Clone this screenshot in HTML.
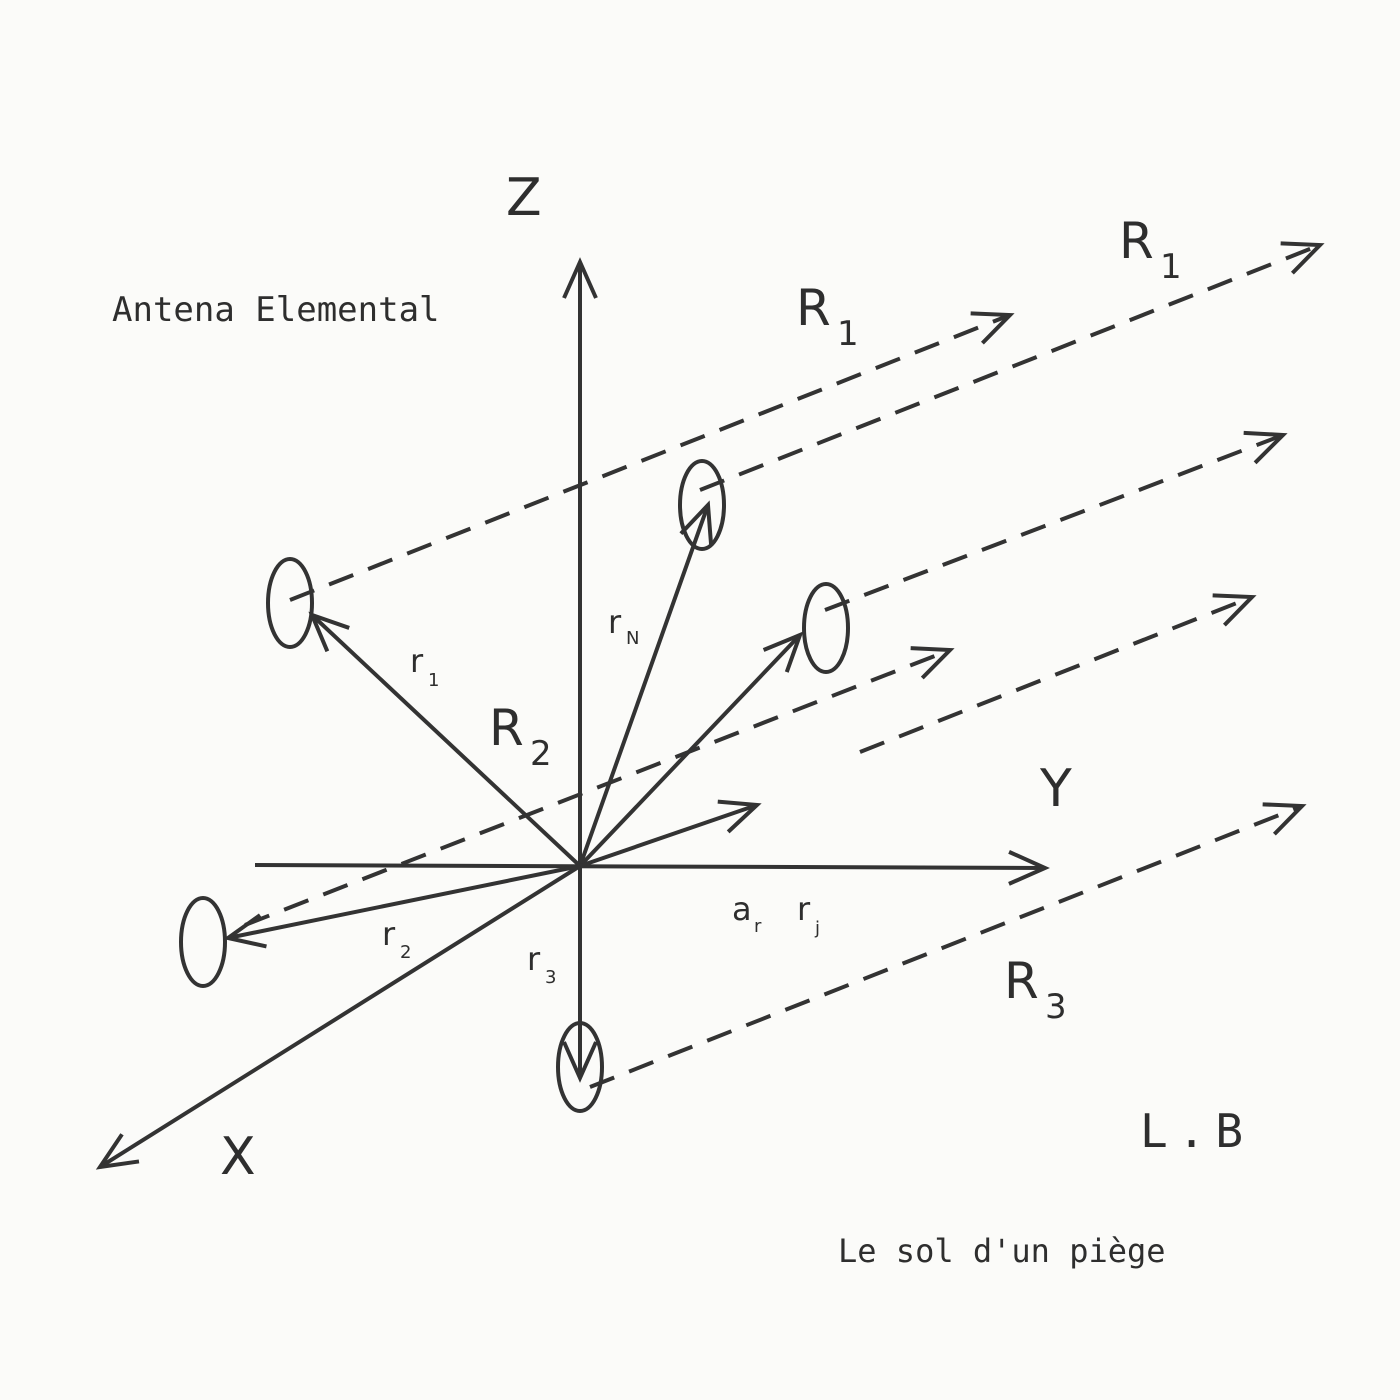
<!DOCTYPE html>
<html><head><meta charset="utf-8"><style>
html,body{margin:0;padding:0;background:#fbfbf9;}
svg{display:block}
text{fill:#2e2e2e}
.s{font-family:"DejaVu Sans","Liberation Sans",sans-serif}
.m{font-family:"DejaVu Sans Mono","Liberation Mono",monospace}
</style></head><body>
<svg width="1400" height="1400" viewBox="0 0 1400 1400" xmlns="http://www.w3.org/2000/svg">
<defs>
<marker id="a" viewBox="0 0 20 20" refX="18" refY="10" markerWidth="40" markerHeight="40" markerUnits="userSpaceOnUse" orient="auto" overflow="visible">
<path d="M0,2 L18,10 L0,18" fill="none" stroke="#333" stroke-width="2"/>
</marker>
</defs>
<rect width="1400" height="1400" fill="#fbfbf9"/>
<g stroke="#333" stroke-width="4" fill="none">
<line x1="580" y1="866" x2="580" y2="262" marker-end="url(#a)"/>
<line x1="255" y1="865" x2="1045" y2="868" marker-end="url(#a)"/>
<line x1="580" y1="866" x2="100" y2="1167" marker-end="url(#a)"/>
<line x1="580" y1="866" x2="312" y2="615" marker-end="url(#a)"/>
<line x1="580" y1="866" x2="708" y2="505" marker-end="url(#a)"/>
<line x1="580" y1="866" x2="800" y2="635" marker-end="url(#a)"/>
<line x1="580" y1="866" x2="228" y2="938" marker-end="url(#a)"/>
<line x1="580" y1="866" x2="580" y2="1078" marker-end="url(#a)"/>
<line x1="580" y1="866" x2="757" y2="805" marker-end="url(#a)"/>
<g stroke-dasharray="26,16">
<line x1="290" y1="600" x2="1010" y2="315" marker-end="url(#a)"/>
<line x1="700" y1="490" x2="1320" y2="245" marker-end="url(#a)"/>
<line x1="825" y1="610" x2="1283" y2="435" marker-end="url(#a)"/>
<line x1="245" y1="925" x2="950" y2="650" marker-end="url(#a)"/>
<line x1="860" y1="752" x2="1252" y2="597" marker-end="url(#a)"/>
<line x1="590" y1="1087" x2="1302" y2="806" marker-end="url(#a)"/>
</g>
<ellipse cx="290" cy="603" rx="22" ry="44"/>
<ellipse cx="702" cy="505" rx="22" ry="44"/>
<ellipse cx="826" cy="628" rx="22" ry="44"/>
<ellipse cx="203" cy="942" rx="22" ry="44"/>
<ellipse cx="580" cy="1067" rx="22" ry="44"/>
</g>
<g class="s">
<text x="506" y="215" font-size="52">Z</text>
<text x="796" y="325" font-size="50">R</text><text x="837" y="345" font-size="34">1</text>
<text x="1119" y="258" font-size="50">R</text><text x="1160" y="278" font-size="34">1</text>
<text x="489" y="745" font-size="50">R</text><text x="530" y="765" font-size="34">2</text>
<text x="1004" y="998" font-size="50">R</text><text x="1045" y="1018" font-size="34">3</text>
<text x="1040" y="806" font-size="52">Y</text>
<text x="220" y="1174" font-size="52">X</text>
<text x="608" y="633" font-size="32">r</text><text x="626" y="644" font-size="18">N</text>
<text x="410" y="672" font-size="32">r</text><text x="428" y="686" font-size="18">1</text>
<text x="382" y="945" font-size="32">r</text><text x="400" y="958" font-size="18">2</text>
<text x="527" y="970" font-size="32">r</text><text x="545" y="983" font-size="18">3</text>
<text x="732" y="920" font-size="32">a</text><text x="754" y="932" font-size="18">r</text>
<text x="797" y="920" font-size="32">r</text><text x="815" y="934" font-size="18">j</text>
</g>
<g class="m">
<text x="112" y="321" font-size="34">Antena Elemental</text>
<text x="1140" y="1147" font-size="46" letter-spacing="10">L.B</text>
<text x="838" y="1262" font-size="32">Le sol d'un piège</text>
</g>
</svg>
</body></html>
